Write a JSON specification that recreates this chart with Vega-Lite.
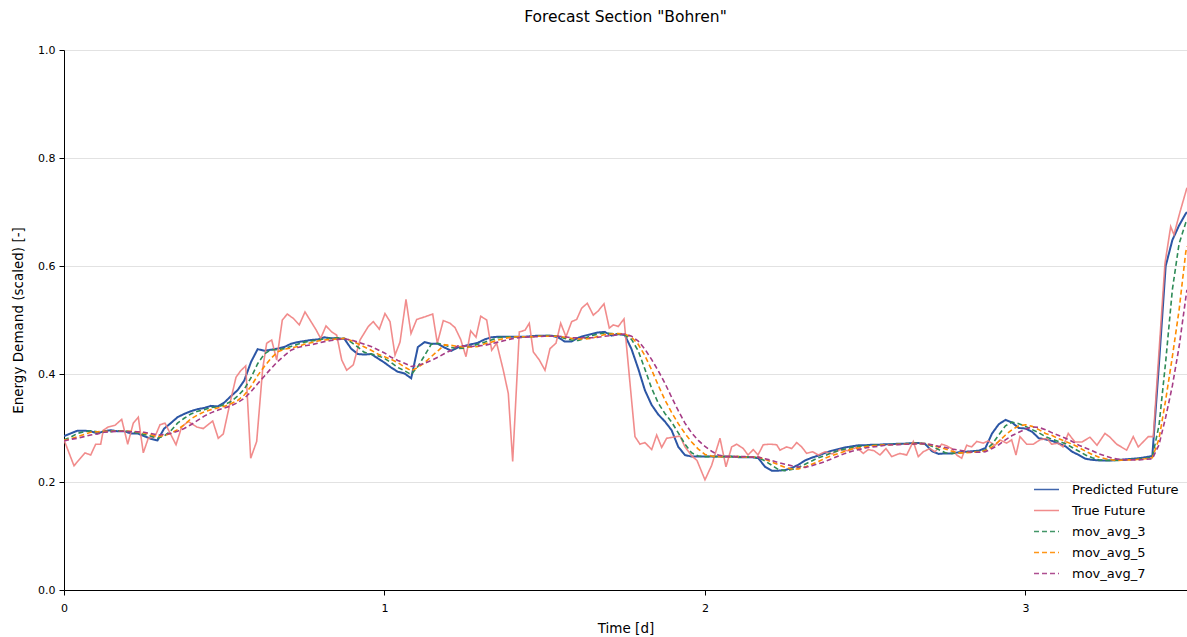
{
  "$schema": "https://vega.github.io/schema/vega-lite/v6.json",
  "width": 1123,
  "height": 540,
  "autosize": {"type": "none"},
  "padding": {"left": 64, "top": 50, "right": 0, "bottom": 47},
  "background": "white",
  "title": {"text": "Forecast Section \"Bohren\"", "font": "DejaVu Sans", "fontSize": 15.5, "fontWeight": "normal", "color": "#000", "anchor": "middle", "offset": 19},
  "config": {
    "view": {"stroke": null},
    "axis": {"labelFont": "DejaVu Sans", "titleFont": "DejaVu Sans", "labelColor": "#000", "titleColor": "#000", "domainColor": "#000", "tickColor": "#000", "labelFontSize": 11, "titleFontSize": 13.5, "titleFontWeight": "normal", "tickSize": 5, "domainWidth": 1, "tickWidth": 1},
    "legend": {"orient": "none", "legendX": 969, "legendY": 426, "symbolType": "stroke", "symbolSize": 625, "symbolStrokeWidth": 1.6, "labelFont": "DejaVu Sans", "labelFontSize": 13, "labelColor": "#000", "labelOffset": 12, "rowPadding": -1, "title": null}
  },
  "datasets": {
    "grid": [
      {"t":0,"p":0.285,"a":0.278,"b":0.277,"c":0.276},
      {"t":0.0208,"p":0.290,"a":0.283,"b":0.280,"c":0.279},
      {"t":0.0417,"p":0.295,"a":0.290,"b":0.284,"c":0.281},
      {"t":0.0625,"p":0.295,"a":0.293,"b":0.288,"c":0.284},
      {"t":0.0833,"p":0.294,"a":0.295,"b":0.292,"c":0.287},
      {"t":0.1042,"p":0.290,"a":0.293,"b":0.293,"c":0.289},
      {"t":0.125,"p":0.294,"a":0.293,"b":0.294,"c":0.292},
      {"t":0.1458,"p":0.296,"a":0.293,"b":0.294,"c":0.293},
      {"t":0.1667,"p":0.294,"a":0.295,"b":0.294,"c":0.294},
      {"t":0.1875,"p":0.294,"a":0.295,"b":0.294,"c":0.294},
      {"t":0.2083,"p":0.290,"a":0.293,"b":0.294,"c":0.293},
      {"t":0.2292,"p":0.290,"a":0.291,"b":0.293,"c":0.293},
      {"t":0.25,"p":0.285,"a":0.288,"b":0.291,"c":0.292},
      {"t":0.2708,"p":0.280,"a":0.285,"b":0.288,"c":0.290},
      {"t":0.2917,"p":0.277,"a":0.281,"b":0.284,"c":0.287},
      {"t":0.3125,"p":0.299,"a":0.285,"b":0.286,"c":0.288},
      {"t":0.3333,"p":0.309,"a":0.295,"b":0.290,"c":0.290},
      {"t":0.3542,"p":0.320,"a":0.309,"b":0.297,"c":0.294},
      {"t":0.375,"p":0.326,"a":0.318,"b":0.306,"c":0.299},
      {"t":0.3958,"p":0.331,"a":0.326,"b":0.317,"c":0.306},
      {"t":0.4167,"p":0.335,"a":0.331,"b":0.324,"c":0.314},
      {"t":0.4375,"p":0.337,"a":0.334,"b":0.330,"c":0.322},
      {"t":0.4583,"p":0.341,"a":0.338,"b":0.334,"c":0.328},
      {"t":0.4792,"p":0.340,"a":0.339,"b":0.337,"c":0.333},
      {"t":0.5,"p":0.347,"a":0.343,"b":0.340,"c":0.337},
      {"t":0.5208,"p":0.359,"a":0.349,"b":0.345,"c":0.341},
      {"t":0.5417,"p":0.370,"a":0.359,"b":0.351,"c":0.347},
      {"t":0.5625,"p":0.388,"a":0.372,"b":0.361,"c":0.355},
      {"t":0.5833,"p":0.422,"a":0.393,"b":0.377,"c":0.367},
      {"t":0.6042,"p":0.446,"a":0.419,"b":0.397,"c":0.382},
      {"t":0.625,"p":0.443,"a":0.437,"b":0.414,"c":0.396},
      {"t":0.6458,"p":0.445,"a":0.445,"b":0.429,"c":0.410},
      {"t":0.6667,"p":0.447,"a":0.445,"b":0.441,"c":0.423},
      {"t":0.6875,"p":0.450,"a":0.447,"b":0.446,"c":0.434},
      {"t":0.7083,"p":0.456,"a":0.451,"b":0.448,"c":0.444},
      {"t":0.7292,"p":0.459,"a":0.455,"b":0.451,"c":0.449},
      {"t":0.75,"p":0.461,"a":0.459,"b":0.455,"c":0.452},
      {"t":0.7708,"p":0.463,"a":0.461,"b":0.458,"c":0.454},
      {"t":0.7917,"p":0.464,"a":0.463,"b":0.461,"c":0.457},
      {"t":0.8125,"p":0.468,"a":0.465,"b":0.463,"c":0.460},
      {"t":0.8333,"p":0.466,"a":0.466,"b":0.464,"c":0.462},
      {"t":0.8542,"p":0.466,"a":0.467,"b":0.465,"c":0.464},
      {"t":0.875,"p":0.465,"a":0.466,"b":0.466,"c":0.465},
      {"t":0.8958,"p":0.447,"a":0.459,"b":0.462,"c":0.463},
      {"t":0.9167,"p":0.437,"a":0.450,"b":0.456,"c":0.459},
      {"t":0.9375,"p":0.436,"a":0.440,"b":0.450,"c":0.455},
      {"t":0.9583,"p":0.437,"a":0.437,"b":0.444,"c":0.451},
      {"t":0.9792,"p":0.429,"a":0.434,"b":0.437,"c":0.445},
      {"t":1,"p":0.421,"a":0.429,"b":0.432,"c":0.439},
      {"t":1.0208,"p":0.412,"a":0.421,"b":0.427,"c":0.431},
      {"t":1.0417,"p":0.404,"a":0.412,"b":0.421,"c":0.425},
      {"t":1.0625,"p":0.401,"a":0.406,"b":0.413,"c":0.420},
      {"t":1.0833,"p":0.392,"a":0.399,"b":0.406,"c":0.414},
      {"t":1.1042,"p":0.450,"a":0.414,"b":0.412,"c":0.416},
      {"t":1.125,"p":0.459,"a":0.434,"b":0.421,"c":0.420},
      {"t":1.1458,"p":0.456,"a":0.455,"b":0.432,"c":0.425},
      {"t":1.1667,"p":0.456,"a":0.457,"b":0.443,"c":0.431},
      {"t":1.1875,"p":0.449,"a":0.454,"b":0.454,"c":0.438},
      {"t":1.2083,"p":0.443,"a":0.449,"b":0.453,"c":0.444},
      {"t":1.2292,"p":0.449,"a":0.447,"b":0.451,"c":0.452},
      {"t":1.25,"p":0.452,"a":0.448,"b":0.450,"c":0.452},
      {"t":1.2708,"p":0.455,"a":0.452,"b":0.450,"c":0.451},
      {"t":1.2917,"p":0.458,"a":0.455,"b":0.451,"c":0.452},
      {"t":1.3125,"p":0.464,"a":0.459,"b":0.456,"c":0.453},
      {"t":1.3333,"p":0.468,"a":0.463,"b":0.459,"c":0.456},
      {"t":1.3542,"p":0.469,"a":0.467,"b":0.463,"c":0.459},
      {"t":1.375,"p":0.469,"a":0.469,"b":0.466,"c":0.462},
      {"t":1.3958,"p":0.469,"a":0.469,"b":0.468,"c":0.465},
      {"t":1.4167,"p":0.469,"a":0.469,"b":0.469,"c":0.467},
      {"t":1.4375,"p":0.469,"a":0.469,"b":0.469,"c":0.468},
      {"t":1.4583,"p":0.470,"a":0.469,"b":0.469,"c":0.469},
      {"t":1.4792,"p":0.471,"a":0.470,"b":0.470,"c":0.469},
      {"t":1.5,"p":0.471,"a":0.471,"b":0.470,"c":0.470},
      {"t":1.5208,"p":0.471,"a":0.471,"b":0.470,"c":0.470},
      {"t":1.5417,"p":0.468,"a":0.470,"b":0.470,"c":0.470},
      {"t":1.5625,"p":0.460,"a":0.466,"b":0.468,"c":0.469},
      {"t":1.5833,"p":0.460,"a":0.463,"b":0.466,"c":0.467},
      {"t":1.6042,"p":0.467,"a":0.462,"b":0.465,"c":0.467},
      {"t":1.625,"p":0.471,"a":0.466,"b":0.465,"c":0.467},
      {"t":1.6458,"p":0.474,"a":0.471,"b":0.466,"c":0.467},
      {"t":1.6667,"p":0.477,"a":0.474,"b":0.470,"c":0.468},
      {"t":1.6875,"p":0.478,"a":0.476,"b":0.473,"c":0.470},
      {"t":1.7083,"p":0.471,"a":0.475,"b":0.474,"c":0.471},
      {"t":1.7292,"p":0.474,"a":0.474,"b":0.475,"c":0.473},
      {"t":1.75,"p":0.472,"a":0.472,"b":0.474,"c":0.474},
      {"t":1.7708,"p":0.446,"a":0.464,"b":0.468,"c":0.470},
      {"t":1.7917,"p":0.410,"a":0.443,"b":0.455,"c":0.461},
      {"t":1.8125,"p":0.370,"a":0.409,"b":0.434,"c":0.446},
      {"t":1.8333,"p":0.343,"a":0.374,"b":0.408,"c":0.427},
      {"t":1.8542,"p":0.325,"a":0.346,"b":0.379,"c":0.406},
      {"t":1.875,"p":0.312,"a":0.327,"b":0.352,"c":0.383},
      {"t":1.8958,"p":0.296,"a":0.311,"b":0.329,"c":0.357},
      {"t":1.9167,"p":0.265,"a":0.291,"b":0.308,"c":0.332},
      {"t":1.9375,"p":0.250,"a":0.270,"b":0.290,"c":0.309},
      {"t":1.9583,"p":0.247,"a":0.254,"b":0.274,"c":0.291},
      {"t":1.9792,"p":0.247,"a":0.248,"b":0.261,"c":0.277},
      {"t":2,"p":0.247,"a":0.247,"b":0.251,"c":0.266},
      {"t":2.0208,"p":0.247,"a":0.247,"b":0.248,"c":0.257},
      {"t":2.0417,"p":0.247,"a":0.247,"b":0.247,"c":0.250},
      {"t":2.0625,"p":0.247,"a":0.247,"b":0.247,"c":0.247},
      {"t":2.0833,"p":0.247,"a":0.247,"b":0.247,"c":0.247},
      {"t":2.1042,"p":0.246,"a":0.247,"b":0.247,"c":0.247},
      {"t":2.125,"p":0.246,"a":0.246,"b":0.246,"c":0.247},
      {"t":2.1458,"p":0.246,"a":0.246,"b":0.246,"c":0.246},
      {"t":2.1667,"p":0.244,"a":0.245,"b":0.246,"c":0.246},
      {"t":2.1875,"p":0.228,"a":0.239,"b":0.242,"c":0.243},
      {"t":2.2083,"p":0.221,"a":0.231,"b":0.237,"c":0.240},
      {"t":2.2292,"p":0.221,"a":0.223,"b":0.232,"c":0.236},
      {"t":2.25,"p":0.222,"a":0.221,"b":0.227,"c":0.233},
      {"t":2.2708,"p":0.226,"a":0.223,"b":0.224,"c":0.230},
      {"t":2.2917,"p":0.232,"a":0.227,"b":0.224,"c":0.228},
      {"t":2.3125,"p":0.240,"a":0.233,"b":0.228,"c":0.227},
      {"t":2.3333,"p":0.245,"a":0.239,"b":0.233,"c":0.230},
      {"t":2.3542,"p":0.249,"a":0.245,"b":0.238,"c":0.234},
      {"t":2.375,"p":0.254,"a":0.249,"b":0.244,"c":0.238},
      {"t":2.3958,"p":0.258,"a":0.254,"b":0.249,"c":0.243},
      {"t":2.4167,"p":0.261,"a":0.258,"b":0.253,"c":0.248},
      {"t":2.4375,"p":0.264,"a":0.261,"b":0.257,"c":0.253},
      {"t":2.4583,"p":0.266,"a":0.264,"b":0.261,"c":0.257},
      {"t":2.4792,"p":0.268,"a":0.266,"b":0.263,"c":0.260},
      {"t":2.5,"p":0.268,"a":0.267,"b":0.265,"c":0.263},
      {"t":2.5208,"p":0.269,"a":0.268,"b":0.267,"c":0.265},
      {"t":2.5417,"p":0.269,"a":0.269,"b":0.268,"c":0.266},
      {"t":2.5625,"p":0.270,"a":0.269,"b":0.269,"c":0.268},
      {"t":2.5833,"p":0.270,"a":0.270,"b":0.269,"c":0.269},
      {"t":2.6042,"p":0.271,"a":0.270,"b":0.270,"c":0.269},
      {"t":2.625,"p":0.271,"a":0.271,"b":0.270,"c":0.270},
      {"t":2.6458,"p":0.272,"a":0.271,"b":0.271,"c":0.270},
      {"t":2.6667,"p":0.272,"a":0.272,"b":0.271,"c":0.271},
      {"t":2.6875,"p":0.270,"a":0.271,"b":0.271,"c":0.271},
      {"t":2.7083,"p":0.257,"a":0.266,"b":0.268,"c":0.269},
      {"t":2.7292,"p":0.252,"a":0.260,"b":0.265,"c":0.266},
      {"t":2.75,"p":0.253,"a":0.254,"b":0.261,"c":0.264},
      {"t":2.7708,"p":0.253,"a":0.253,"b":0.257,"c":0.261},
      {"t":2.7917,"p":0.255,"a":0.254,"b":0.254,"c":0.259},
      {"t":2.8125,"p":0.256,"a":0.255,"b":0.254,"c":0.257},
      {"t":2.8333,"p":0.257,"a":0.256,"b":0.255,"c":0.255},
      {"t":2.8542,"p":0.258,"a":0.257,"b":0.256,"c":0.255},
      {"t":2.875,"p":0.263,"a":0.259,"b":0.258,"c":0.256},
      {"t":2.8958,"p":0.290,"a":0.270,"b":0.265,"c":0.262},
      {"t":2.9167,"p":0.307,"a":0.287,"b":0.275,"c":0.269},
      {"t":2.9375,"p":0.315,"a":0.304,"b":0.287,"c":0.278},
      {"t":2.9583,"p":0.310,"a":0.311,"b":0.297,"c":0.286},
      {"t":2.9792,"p":0.300,"a":0.308,"b":0.304,"c":0.292},
      {"t":3,"p":0.299,"a":0.303,"b":0.306,"c":0.298},
      {"t":3.0208,"p":0.293,"a":0.297,"b":0.303,"c":0.302},
      {"t":3.0417,"p":0.281,"a":0.291,"b":0.297,"c":0.301},
      {"t":3.0625,"p":0.279,"a":0.284,"b":0.290,"c":0.297},
      {"t":3.0833,"p":0.276,"a":0.279,"b":0.286,"c":0.291},
      {"t":3.1042,"p":0.271,"a":0.275,"b":0.280,"c":0.286},
      {"t":3.125,"p":0.266,"a":0.271,"b":0.275,"c":0.281},
      {"t":3.1458,"p":0.256,"a":0.264,"b":0.270,"c":0.275},
      {"t":3.1667,"p":0.250,"a":0.257,"b":0.264,"c":0.268},
      {"t":3.1875,"p":0.243,"a":0.250,"b":0.257,"c":0.263},
      {"t":3.2083,"p":0.241,"a":0.245,"b":0.251,"c":0.258},
      {"t":3.2292,"p":0.240,"a":0.241,"b":0.246,"c":0.252},
      {"t":3.25,"p":0.240,"a":0.240,"b":0.243,"c":0.248},
      {"t":3.2708,"p":0.240,"a":0.240,"b":0.241,"c":0.244},
      {"t":3.2917,"p":0.241,"a":0.240,"b":0.240,"c":0.242},
      {"t":3.3125,"p":0.242,"a":0.241,"b":0.241,"c":0.241},
      {"t":3.3333,"p":0.243,"a":0.242,"b":0.241,"c":0.241},
      {"t":3.3542,"p":0.244,"a":0.243,"b":0.242,"c":0.241},
      {"t":3.375,"p":0.246,"a":0.244,"b":0.243,"c":0.242},
      {"t":3.3958,"p":0.248,"a":0.246,"b":0.245,"c":0.243},
      {"t":3.4167,"p":0.420,"a":0.305,"b":0.280,"c":0.269},
      {"t":3.4375,"p":0.600,"a":0.423,"b":0.352,"c":0.320},
      {"t":3.4583,"p":0.648,"a":0.556,"b":0.432,"c":0.378},
      {"t":3.4792,"p":0.675,"a":0.641,"b":0.518,"c":0.450},
      {"t":3.5,"p":0.697,"a":0.680,"b":0.625,"c":0.540},
      {"t":3.5039,"p":0.700,"a":0.685,"b":0.636,"c":0.556}
    ],
    "truth": [
      {"t":0,"r":0.278},{"t":0.0312,"r":0.230},{"t":0.0655,"r":0.254},{"t":0.0833,"r":0.250},
      {"t":0.0989,"r":0.270},{"t":0.1145,"r":0.270},{"t":0.1226,"r":0.296},{"t":0.1382,"r":0.302},
      {"t":0.1591,"r":0.305},{"t":0.1800,"r":0.316},{"t":0.1988,"r":0.270},{"t":0.2162,"r":0.309},
      {"t":0.2318,"r":0.320},{"t":0.2474,"r":0.254},{"t":0.2630,"r":0.281},{"t":0.2839,"r":0.284},
      {"t":0.2995,"r":0.306},{"t":0.3151,"r":0.309},{"t":0.3495,"r":0.269},{"t":0.3672,"r":0.302},
      {"t":0.3878,"r":0.312},{"t":0.4140,"r":0.302},{"t":0.4346,"r":0.299},{"t":0.4640,"r":0.313},
      {"t":0.4814,"r":0.281},{"t":0.4970,"r":0.289},{"t":0.5179,"r":0.346},{"t":0.5367,"r":0.394},
      {"t":0.5513,"r":0.406},{"t":0.5669,"r":0.415},{"t":0.5825,"r":0.244},{"t":0.6012,"r":0.275},
      {"t":0.6200,"r":0.410},{"t":0.6324,"r":0.457},{"t":0.6480,"r":0.463},{"t":0.6637,"r":0.426},
      {"t":0.6811,"r":0.500},{"t":0.6967,"r":0.511},{"t":0.7154,"r":0.503},{"t":0.7342,"r":0.491},
      {"t":0.7520,"r":0.515},{"t":0.7676,"r":0.500},{"t":0.7863,"r":0.482},{"t":0.8009,"r":0.466},
      {"t":0.8175,"r":0.489},{"t":0.8353,"r":0.478},{"t":0.8509,"r":0.472},{"t":0.8665,"r":0.426},
      {"t":0.8821,"r":0.407},{"t":0.9027,"r":0.417},{"t":0.9236,"r":0.463},{"t":0.9495,"r":0.488},
      {"t":0.9651,"r":0.497},{"t":0.9838,"r":0.483},{"t":1.0016,"r":0.512},{"t":1.0172,"r":0.497},
      {"t":1.0328,"r":0.435},{"t":1.0484,"r":0.459},{"t":1.0671,"r":0.538},{"t":1.0827,"r":0.475},
      {"t":1.1005,"r":0.501},{"t":1.1264,"r":0.506},{"t":1.1504,"r":0.511},{"t":1.1648,"r":0.457},
      {"t":1.1835,"r":0.499},{"t":1.2044,"r":0.494},{"t":1.2200,"r":0.486},{"t":1.2378,"r":0.464},
      {"t":1.2543,"r":0.432},{"t":1.2690,"r":0.480},{"t":1.2855,"r":0.468},{"t":1.3002,"r":0.507},
      {"t":1.3189,"r":0.500},{"t":1.3345,"r":0.444},{"t":1.3501,"r":0.457},{"t":1.3707,"r":0.407},
      {"t":1.3863,"r":0.364},{"t":1.4000,"r":0.238},{"t":1.4206,"r":0.478},{"t":1.4384,"r":0.481},
      {"t":1.4518,"r":0.494},{"t":1.4643,"r":0.441},{"t":1.4830,"r":0.426},{"t":1.5008,"r":0.407},
      {"t":1.5164,"r":0.447},{"t":1.5351,"r":0.457},{"t":1.5498,"r":0.494},{"t":1.5663,"r":0.469},
      {"t":1.5841,"r":0.497},{"t":1.5997,"r":0.501},{"t":1.6153,"r":0.522},{"t":1.6328,"r":0.531},
      {"t":1.6515,"r":0.509},{"t":1.6671,"r":0.517},{"t":1.6849,"r":0.530},{"t":1.7014,"r":0.485},
      {"t":1.7139,"r":0.491},{"t":1.7295,"r":0.488},{"t":1.7473,"r":0.502},{"t":1.7816,"r":0.284},
      {"t":1.7972,"r":0.270},{"t":1.8128,"r":0.273},{"t":1.8337,"r":0.260},{"t":1.8493,"r":0.287},
      {"t":1.8649,"r":0.264},{"t":1.8805,"r":0.281},{"t":1.9002,"r":0.283},{"t":1.9220,"r":0.285},
      {"t":1.9376,"r":0.265},{"t":1.9594,"r":0.248},{"t":1.9750,"r":0.240},{"t":2.0000,"r":0.204},
      {"t":2.0209,"r":0.231},{"t":2.0468,"r":0.281},{"t":2.0655,"r":0.228},{"t":2.0833,"r":0.265},
      {"t":2.0989,"r":0.270},{"t":2.1195,"r":0.262},{"t":2.1342,"r":0.250},{"t":2.1507,"r":0.260},
      {"t":2.1654,"r":0.250},{"t":2.1819,"r":0.269},{"t":2.2028,"r":0.270},{"t":2.2237,"r":0.269},
      {"t":2.2340,"r":0.259},{"t":2.2549,"r":0.265},{"t":2.2705,"r":0.262},{"t":2.2861,"r":0.273},
      {"t":2.3017,"r":0.265},{"t":2.3173,"r":0.253},{"t":2.3360,"r":0.256},{"t":2.3535,"r":0.250},
      {"t":2.3744,"r":0.256},{"t":2.3963,"r":0.252},{"t":2.4212,"r":0.260},{"t":2.4462,"r":0.258},
      {"t":2.4733,"r":0.264},{"t":2.4939,"r":0.253},{"t":2.5095,"r":0.260},{"t":2.5273,"r":0.258},
      {"t":2.5460,"r":0.250},{"t":2.5647,"r":0.262},{"t":2.5825,"r":0.247},{"t":2.6084,"r":0.253},
      {"t":2.6293,"r":0.250},{"t":2.6499,"r":0.275},{"t":2.6655,"r":0.247},{"t":2.6811,"r":0.256},
      {"t":2.7020,"r":0.262},{"t":2.7176,"r":0.256},{"t":2.7385,"r":0.270},{"t":2.7541,"r":0.267},
      {"t":2.7697,"r":0.262},{"t":2.7853,"r":0.250},{"t":2.8009,"r":0.244},{"t":2.8165,"r":0.268},
      {"t":2.8321,"r":0.265},{"t":2.8477,"r":0.275},{"t":2.8683,"r":0.272},{"t":2.8839,"r":0.276},
      {"t":2.9048,"r":0.268},{"t":2.9204,"r":0.278},{"t":2.9413,"r":0.272},{"t":2.9569,"r":0.278},
      {"t":2.9704,"r":0.250},{"t":2.9828,"r":0.284},{"t":3.0037,"r":0.270},{"t":3.0243,"r":0.270},
      {"t":3.0452,"r":0.278},{"t":3.0661,"r":0.281},{"t":3.0817,"r":0.270},{"t":3.1014,"r":0.272},
      {"t":3.1170,"r":0.265},{"t":3.1335,"r":0.290},{"t":3.1544,"r":0.274},{"t":3.1763,"r":0.274},
      {"t":3.2012,"r":0.283},{"t":3.2231,"r":0.268},{"t":3.2480,"r":0.290},{"t":3.2636,"r":0.283},
      {"t":3.2845,"r":0.270},{"t":3.3157,"r":0.259},{"t":3.3363,"r":0.284},{"t":3.3519,"r":0.265},
      {"t":3.3832,"r":0.284},{"t":3.3988,"r":0.284},{"t":3.4353,"r":0.605},{"t":3.4531,"r":0.673},
      {"t":3.4633,"r":0.658},{"t":3.4821,"r":0.700},{"t":3.5039,"r":0.745}
    ]
  },
  "encoding": {
    "x": {"field": "t", "type": "quantitative", "scale": {"domain": [0, 3.504], "nice": false, "zero": false},
      "axis": {"title": "Time [d]", "values": [0, 1, 2, 3], "format": "d", "grid": false, "labelFlush": false, "labelPadding": 7, "titlePadding": 8}},
    "y": {"field": "v", "type": "quantitative", "scale": {"domain": [0, 1], "nice": false},
      "axis": {"title": "Energy Demand (scaled) [-]", "values": [0, 0.2, 0.4, 0.6, 0.8, 1], "format": ".1f", "grid": true, "gridColor": "#e2e2e2", "gridWidth": 1, "labelPadding": 4, "titlePadding": 12}},
    "color": {"field": "key", "type": "nominal",
      "scale": {"domain": ["p", "r", "a", "b", "c"], "range": ["#2c56a5", "#f08080", "#2e8b57", "#ff8c00", "#a63c86"]},
      "legend": {"title": null, "labelExpr": "datum.label == 'p' ? 'Predicted Future' : datum.label == 'r' ? 'True Future' : datum.label == 'a' ? 'mov_avg_3' : datum.label == 'b' ? 'mov_avg_5' : 'mov_avg_7'"}},
    "strokeDash": {"field": "key", "type": "nominal",
      "scale": {"domain": ["p", "r", "a", "b", "c"], "range": [[1, 0], [1, 0], [5, 3], [5, 3], [5, 3]]},
      "legend": {"title": null, "labelExpr": "datum.label == 'p' ? 'Predicted Future' : datum.label == 'r' ? 'True Future' : datum.label == 'a' ? 'mov_avg_3' : datum.label == 'b' ? 'mov_avg_5' : 'mov_avg_7'"}}
  },
  "layer": [
    {"data": {"name": "grid"}, "transform": [{"fold": ["p"], "as": ["key", "v"]}],
     "mark": {"type": "line", "strokeWidth": 2, "clip": true}},
    {"data": {"name": "truth"}, "transform": [{"fold": ["r"], "as": ["key", "v"]}],
     "mark": {"type": "line", "strokeWidth": 1.6, "opacity": 0.9, "clip": true}},
    {"data": {"name": "grid"}, "transform": [{"fold": ["a", "b", "c"], "as": ["key", "v"]}],
     "mark": {"type": "line", "strokeWidth": 1.6, "clip": true}}
  ]
}
